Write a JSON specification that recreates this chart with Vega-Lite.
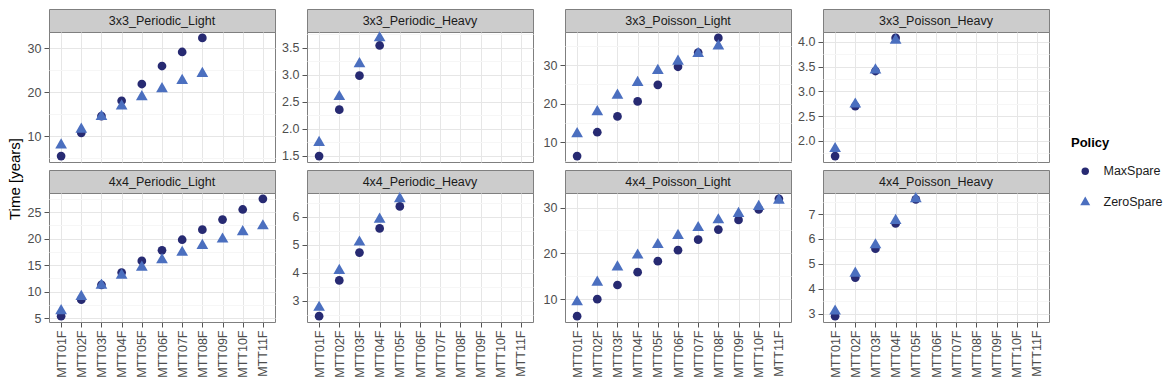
{
"$schema": "https://vega.github.io/schema/vega-lite/v6.json",
"padding": {"left": 7, "top": 8, "right": 5, "bottom": 0},
"background": "white",
"datasets": {
"main": [
{"panel":"3x3_Periodic_Light","MTT":"MTT01F","Policy":"MaxSpare","Time":5.5},
{"panel":"3x3_Periodic_Light","MTT":"MTT02F","Policy":"MaxSpare","Time":10.8},
{"panel":"3x3_Periodic_Light","MTT":"MTT03F","Policy":"MaxSpare","Time":14.6},
{"panel":"3x3_Periodic_Light","MTT":"MTT04F","Policy":"MaxSpare","Time":18.1},
{"panel":"3x3_Periodic_Light","MTT":"MTT05F","Policy":"MaxSpare","Time":21.9},
{"panel":"3x3_Periodic_Light","MTT":"MTT06F","Policy":"MaxSpare","Time":26.0},
{"panel":"3x3_Periodic_Light","MTT":"MTT07F","Policy":"MaxSpare","Time":29.2},
{"panel":"3x3_Periodic_Light","MTT":"MTT08F","Policy":"MaxSpare","Time":32.4},
{"panel":"3x3_Periodic_Light","MTT":"MTT01F","Policy":"ZeroSpare","Time":8.0},
{"panel":"3x3_Periodic_Light","MTT":"MTT02F","Policy":"ZeroSpare","Time":11.6},
{"panel":"3x3_Periodic_Light","MTT":"MTT03F","Policy":"ZeroSpare","Time":14.5},
{"panel":"3x3_Periodic_Light","MTT":"MTT04F","Policy":"ZeroSpare","Time":16.9},
{"panel":"3x3_Periodic_Light","MTT":"MTT05F","Policy":"ZeroSpare","Time":19.0},
{"panel":"3x3_Periodic_Light","MTT":"MTT06F","Policy":"ZeroSpare","Time":20.8},
{"panel":"3x3_Periodic_Light","MTT":"MTT07F","Policy":"ZeroSpare","Time":22.7},
{"panel":"3x3_Periodic_Light","MTT":"MTT08F","Policy":"ZeroSpare","Time":24.3},
{"panel":"3x3_Periodic_Heavy","MTT":"MTT01F","Policy":"MaxSpare","Time":1.49},
{"panel":"3x3_Periodic_Heavy","MTT":"MTT02F","Policy":"MaxSpare","Time":2.35},
{"panel":"3x3_Periodic_Heavy","MTT":"MTT03F","Policy":"MaxSpare","Time":2.98},
{"panel":"3x3_Periodic_Heavy","MTT":"MTT04F","Policy":"MaxSpare","Time":3.54},
{"panel":"3x3_Periodic_Heavy","MTT":"MTT01F","Policy":"ZeroSpare","Time":1.74},
{"panel":"3x3_Periodic_Heavy","MTT":"MTT02F","Policy":"ZeroSpare","Time":2.59},
{"panel":"3x3_Periodic_Heavy","MTT":"MTT03F","Policy":"ZeroSpare","Time":3.20},
{"panel":"3x3_Periodic_Heavy","MTT":"MTT04F","Policy":"ZeroSpare","Time":3.68},
{"panel":"3x3_Poisson_Light","MTT":"MTT01F","Policy":"MaxSpare","Time":6.4},
{"panel":"3x3_Poisson_Light","MTT":"MTT02F","Policy":"MaxSpare","Time":12.6},
{"panel":"3x3_Poisson_Light","MTT":"MTT03F","Policy":"MaxSpare","Time":16.7},
{"panel":"3x3_Poisson_Light","MTT":"MTT04F","Policy":"MaxSpare","Time":20.6},
{"panel":"3x3_Poisson_Light","MTT":"MTT05F","Policy":"MaxSpare","Time":24.9},
{"panel":"3x3_Poisson_Light","MTT":"MTT06F","Policy":"MaxSpare","Time":29.6},
{"panel":"3x3_Poisson_Light","MTT":"MTT07F","Policy":"MaxSpare","Time":33.3},
{"panel":"3x3_Poisson_Light","MTT":"MTT08F","Policy":"MaxSpare","Time":37.1},
{"panel":"3x3_Poisson_Light","MTT":"MTT01F","Policy":"ZeroSpare","Time":12.2},
{"panel":"3x3_Poisson_Light","MTT":"MTT02F","Policy":"ZeroSpare","Time":17.9},
{"panel":"3x3_Poisson_Light","MTT":"MTT03F","Policy":"ZeroSpare","Time":22.2},
{"panel":"3x3_Poisson_Light","MTT":"MTT04F","Policy":"ZeroSpare","Time":25.5},
{"panel":"3x3_Poisson_Light","MTT":"MTT05F","Policy":"ZeroSpare","Time":28.6},
{"panel":"3x3_Poisson_Light","MTT":"MTT06F","Policy":"ZeroSpare","Time":31.0},
{"panel":"3x3_Poisson_Light","MTT":"MTT07F","Policy":"ZeroSpare","Time":33.0},
{"panel":"3x3_Poisson_Light","MTT":"MTT08F","Policy":"ZeroSpare","Time":35.0},
{"panel":"3x3_Poisson_Heavy","MTT":"MTT01F","Policy":"MaxSpare","Time":1.69},
{"panel":"3x3_Poisson_Heavy","MTT":"MTT02F","Policy":"MaxSpare","Time":2.70},
{"panel":"3x3_Poisson_Heavy","MTT":"MTT03F","Policy":"MaxSpare","Time":3.41},
{"panel":"3x3_Poisson_Heavy","MTT":"MTT04F","Policy":"MaxSpare","Time":4.08},
{"panel":"3x3_Poisson_Heavy","MTT":"MTT01F","Policy":"ZeroSpare","Time":1.84},
{"panel":"3x3_Poisson_Heavy","MTT":"MTT02F","Policy":"ZeroSpare","Time":2.74},
{"panel":"3x3_Poisson_Heavy","MTT":"MTT03F","Policy":"ZeroSpare","Time":3.43},
{"panel":"3x3_Poisson_Heavy","MTT":"MTT04F","Policy":"ZeroSpare","Time":4.03},
{"panel":"4x4_Periodic_Light","MTT":"MTT01F","Policy":"MaxSpare","Time":5.4},
{"panel":"4x4_Periodic_Light","MTT":"MTT02F","Policy":"MaxSpare","Time":8.5},
{"panel":"4x4_Periodic_Light","MTT":"MTT03F","Policy":"MaxSpare","Time":11.3},
{"panel":"4x4_Periodic_Light","MTT":"MTT04F","Policy":"MaxSpare","Time":13.6},
{"panel":"4x4_Periodic_Light","MTT":"MTT05F","Policy":"MaxSpare","Time":15.8},
{"panel":"4x4_Periodic_Light","MTT":"MTT06F","Policy":"MaxSpare","Time":17.8},
{"panel":"4x4_Periodic_Light","MTT":"MTT07F","Policy":"MaxSpare","Time":19.8},
{"panel":"4x4_Periodic_Light","MTT":"MTT08F","Policy":"MaxSpare","Time":21.7},
{"panel":"4x4_Periodic_Light","MTT":"MTT09F","Policy":"MaxSpare","Time":23.6},
{"panel":"4x4_Periodic_Light","MTT":"MTT10F","Policy":"MaxSpare","Time":25.5},
{"panel":"4x4_Periodic_Light","MTT":"MTT11F","Policy":"MaxSpare","Time":27.5},
{"panel":"4x4_Periodic_Light","MTT":"MTT01F","Policy":"ZeroSpare","Time":6.4},
{"panel":"4x4_Periodic_Light","MTT":"MTT02F","Policy":"ZeroSpare","Time":9.1},
{"panel":"4x4_Periodic_Light","MTT":"MTT03F","Policy":"ZeroSpare","Time":11.2},
{"panel":"4x4_Periodic_Light","MTT":"MTT04F","Policy":"ZeroSpare","Time":13.1},
{"panel":"4x4_Periodic_Light","MTT":"MTT05F","Policy":"ZeroSpare","Time":14.6},
{"panel":"4x4_Periodic_Light","MTT":"MTT06F","Policy":"ZeroSpare","Time":16.0},
{"panel":"4x4_Periodic_Light","MTT":"MTT07F","Policy":"ZeroSpare","Time":17.4},
{"panel":"4x4_Periodic_Light","MTT":"MTT08F","Policy":"ZeroSpare","Time":18.7},
{"panel":"4x4_Periodic_Light","MTT":"MTT09F","Policy":"ZeroSpare","Time":19.9},
{"panel":"4x4_Periodic_Light","MTT":"MTT10F","Policy":"ZeroSpare","Time":21.3},
{"panel":"4x4_Periodic_Light","MTT":"MTT11F","Policy":"ZeroSpare","Time":22.4},
{"panel":"4x4_Periodic_Heavy","MTT":"MTT01F","Policy":"MaxSpare","Time":2.46},
{"panel":"4x4_Periodic_Heavy","MTT":"MTT02F","Policy":"MaxSpare","Time":3.73},
{"panel":"4x4_Periodic_Heavy","MTT":"MTT03F","Policy":"MaxSpare","Time":4.72},
{"panel":"4x4_Periodic_Heavy","MTT":"MTT04F","Policy":"MaxSpare","Time":5.58},
{"panel":"4x4_Periodic_Heavy","MTT":"MTT05F","Policy":"MaxSpare","Time":6.36},
{"panel":"4x4_Periodic_Heavy","MTT":"MTT01F","Policy":"ZeroSpare","Time":2.77},
{"panel":"4x4_Periodic_Heavy","MTT":"MTT02F","Policy":"ZeroSpare","Time":4.08},
{"panel":"4x4_Periodic_Heavy","MTT":"MTT03F","Policy":"ZeroSpare","Time":5.09},
{"panel":"4x4_Periodic_Heavy","MTT":"MTT04F","Policy":"ZeroSpare","Time":5.90},
{"panel":"4x4_Periodic_Heavy","MTT":"MTT05F","Policy":"ZeroSpare","Time":6.63},
{"panel":"4x4_Poisson_Light","MTT":"MTT01F","Policy":"MaxSpare","Time":6.3},
{"panel":"4x4_Poisson_Light","MTT":"MTT02F","Policy":"MaxSpare","Time":10.0},
{"panel":"4x4_Poisson_Light","MTT":"MTT03F","Policy":"MaxSpare","Time":13.1},
{"panel":"4x4_Poisson_Light","MTT":"MTT04F","Policy":"MaxSpare","Time":15.9},
{"panel":"4x4_Poisson_Light","MTT":"MTT05F","Policy":"MaxSpare","Time":18.3},
{"panel":"4x4_Poisson_Light","MTT":"MTT06F","Policy":"MaxSpare","Time":20.7},
{"panel":"4x4_Poisson_Light","MTT":"MTT07F","Policy":"MaxSpare","Time":23.0},
{"panel":"4x4_Poisson_Light","MTT":"MTT08F","Policy":"MaxSpare","Time":25.2},
{"panel":"4x4_Poisson_Light","MTT":"MTT09F","Policy":"MaxSpare","Time":27.3},
{"panel":"4x4_Poisson_Light","MTT":"MTT10F","Policy":"MaxSpare","Time":29.6},
{"panel":"4x4_Poisson_Light","MTT":"MTT11F","Policy":"MaxSpare","Time":31.9},
{"panel":"4x4_Poisson_Light","MTT":"MTT01F","Policy":"ZeroSpare","Time":9.4},
{"panel":"4x4_Poisson_Light","MTT":"MTT02F","Policy":"ZeroSpare","Time":13.7},
{"panel":"4x4_Poisson_Light","MTT":"MTT03F","Policy":"ZeroSpare","Time":17.0},
{"panel":"4x4_Poisson_Light","MTT":"MTT04F","Policy":"ZeroSpare","Time":19.6},
{"panel":"4x4_Poisson_Light","MTT":"MTT05F","Policy":"ZeroSpare","Time":21.9},
{"panel":"4x4_Poisson_Light","MTT":"MTT06F","Policy":"ZeroSpare","Time":23.9},
{"panel":"4x4_Poisson_Light","MTT":"MTT07F","Policy":"ZeroSpare","Time":25.6},
{"panel":"4x4_Poisson_Light","MTT":"MTT08F","Policy":"ZeroSpare","Time":27.3},
{"panel":"4x4_Poisson_Light","MTT":"MTT09F","Policy":"ZeroSpare","Time":28.7},
{"panel":"4x4_Poisson_Light","MTT":"MTT10F","Policy":"ZeroSpare","Time":30.2},
{"panel":"4x4_Poisson_Light","MTT":"MTT11F","Policy":"ZeroSpare","Time":31.6},
{"panel":"4x4_Poisson_Heavy","MTT":"MTT01F","Policy":"MaxSpare","Time":2.90},
{"panel":"4x4_Poisson_Heavy","MTT":"MTT02F","Policy":"MaxSpare","Time":4.45},
{"panel":"4x4_Poisson_Heavy","MTT":"MTT03F","Policy":"MaxSpare","Time":5.61},
{"panel":"4x4_Poisson_Heavy","MTT":"MTT04F","Policy":"MaxSpare","Time":6.62},
{"panel":"4x4_Poisson_Heavy","MTT":"MTT05F","Policy":"MaxSpare","Time":7.59},
{"panel":"4x4_Poisson_Heavy","MTT":"MTT01F","Policy":"ZeroSpare","Time":3.10},
{"panel":"4x4_Poisson_Heavy","MTT":"MTT02F","Policy":"ZeroSpare","Time":4.62},
{"panel":"4x4_Poisson_Heavy","MTT":"MTT03F","Policy":"ZeroSpare","Time":5.76},
{"panel":"4x4_Poisson_Heavy","MTT":"MTT04F","Policy":"ZeroSpare","Time":6.74},
{"panel":"4x4_Poisson_Heavy","MTT":"MTT05F","Policy":"ZeroSpare","Time":7.61}
]
},
"config": {
"font": "Liberation Sans",
"view": {"stroke": "#7F7F7F", "strokeWidth": 1},
"axis": {"labelFont": "Liberation Sans", "labelFontSize": 12.5, "labelColor": "#4D4D4D", "tickColor": "#555555", "tickSize": 5, "labelPadding": 3, "domain": false, "gridColor": "#E6E6E6", "gridWidth": 1, "labelOverlap": false, "title": null},
"legend": {"orient": "none", "legendX": 1064, "legendY": 128, "titleFont": "Liberation Sans", "titleFontSize": 13, "titleFontWeight": "bold", "titleColor": "#000000", "labelFont": "Liberation Sans", "labelFontSize": 12.5, "labelColor": "#1A1A1A", "symbolSize": 55, "symbolOffset": 8, "labelOffset": 12, "rowPadding": 18, "titlePadding": 15, "symbolStrokeWidth": 0},
"point": {"filled": true, "opacity": 1, "size": 76, "strokeWidth": 0}
},
"spacing": 3,
"hconcat": [
{"width": 16, "height": 340, "view": {"stroke": null},
 "data": {"values": [{"label": "Time [years]"}]},
 "mark": {"type": "text", "angle": 270, "fontSize": 15, "font": "Liberation Sans", "color": "#000000"},
 "encoding": {"text": {"field": "label"}}},
{"spacing": 0,
 "vconcat": [
 {"columns": 4, "align": "each", "bounds": "flush", "spacing": {"row": 0, "column": 32},
  "concat": [
  {"width": 226, "height": 23, "view": {"fill": "#CCCCCC", "stroke": "#7F7F7F"}, "data": {"values": [{"panel": "3x3_Periodic_Light"}]}, "mark": {"type": "text", "fontSize": 12.5, "color": "#1A1A1A"}, "encoding": {"text": {"field": "panel"}}},
  {"width": 226, "height": 23, "view": {"fill": "#CCCCCC", "stroke": "#7F7F7F"}, "data": {"values": [{"panel": "3x3_Periodic_Heavy"}]}, "mark": {"type": "text", "fontSize": 12.5, "color": "#1A1A1A"}, "encoding": {"text": {"field": "panel"}}},
  {"width": 226, "height": 23, "view": {"fill": "#CCCCCC", "stroke": "#7F7F7F"}, "data": {"values": [{"panel": "3x3_Poisson_Light"}]}, "mark": {"type": "text", "fontSize": 12.5, "color": "#1A1A1A"}, "encoding": {"text": {"field": "panel"}}},
  {"width": 226, "height": 23, "view": {"fill": "#CCCCCC", "stroke": "#7F7F7F"}, "data": {"values": [{"panel": "3x3_Poisson_Heavy"}]}, "mark": {"type": "text", "fontSize": 12.5, "color": "#1A1A1A"}, "encoding": {"text": {"field": "panel"}}},
  {"width": 226, "height": 130, "data": {"name": "main"}, "transform": [{"filter": "datum.panel === '3x3_Periodic_Light'"}], "mark": "point",
   "encoding": {
    "x": {"field": "MTT", "type": "nominal", "scale": {"type": "point", "padding": 0.6, "domain": ["MTT01F","MTT02F","MTT03F","MTT04F","MTT05F","MTT06F","MTT07F","MTT08F","MTT09F","MTT10F","MTT11F"]}, "axis": {"labels": false, "ticks": false, "grid": true, "title": null, "minExtent": 0}},
    "y": {"field": "Time", "type": "quantitative", "scale": {"domain": [4.155, 33.745], "nice": false, "zero": false}, "axis": {"values": [5,10,15,20,25,30], "format": ".0f", "labelExpr": "datum.value % 10 === 0 ? datum.label : ''", "gridColor": {"condition": {"test": "datum.value % 10 === 0", "value": "#E6E6E6"}, "value": "#F6F6F6"}, "tickOpacity": {"condition": {"test": "datum.value % 10 === 0", "value": 1}, "value": 0}}},
    "color": {"field": "Policy", "type": "nominal", "scale": {"domain": ["MaxSpare","ZeroSpare"], "range": ["#272A72","#4B6FBF"]}},
    "shape": {"field": "Policy", "type": "nominal", "scale": {"domain": ["MaxSpare","ZeroSpare"], "range": ["circle","M0,-1.555L1.347,0.778L-1.347,0.778Z"]}}
   }},
  {"width": 226, "height": 130, "data": {"name": "main"}, "transform": [{"filter": "datum.panel === '3x3_Periodic_Heavy'"}], "mark": "point",
   "encoding": {
    "x": {"field": "MTT", "type": "nominal", "scale": {"type": "point", "padding": 0.6, "domain": ["MTT01F","MTT02F","MTT03F","MTT04F","MTT05F","MTT06F","MTT07F","MTT08F","MTT09F","MTT10F","MTT11F"]}, "axis": {"labels": false, "ticks": false, "grid": true, "title": null, "minExtent": 0}},
    "y": {"field": "Time", "type": "quantitative", "scale": {"domain": [1.3805, 3.7895], "nice": false, "zero": false}, "axis": {"values": [1.5,1.75,2,2.25,2.5,2.75,3,3.25,3.5,3.75], "format": ".1f", "labelExpr": "datum.value % 0.5 === 0 ? datum.label : ''", "gridColor": {"condition": {"test": "datum.value % 0.5 === 0", "value": "#E6E6E6"}, "value": "#F6F6F6"}, "tickOpacity": {"condition": {"test": "datum.value % 0.5 === 0", "value": 1}, "value": 0}}},
    "color": {"field": "Policy", "type": "nominal", "scale": {"domain": ["MaxSpare","ZeroSpare"], "range": ["#272A72","#4B6FBF"]}},
    "shape": {"field": "Policy", "type": "nominal", "scale": {"domain": ["MaxSpare","ZeroSpare"], "range": ["circle","M0,-1.555L1.347,0.778L-1.347,0.778Z"]}}
   }},
  {"width": 226, "height": 130, "data": {"name": "main"}, "transform": [{"filter": "datum.panel === '3x3_Poisson_Light'"}], "mark": "point",
   "encoding": {
    "x": {"field": "MTT", "type": "nominal", "scale": {"type": "point", "padding": 0.6, "domain": ["MTT01F","MTT02F","MTT03F","MTT04F","MTT05F","MTT06F","MTT07F","MTT08F","MTT09F","MTT10F","MTT11F"]}, "axis": {"labels": false, "ticks": false, "grid": true, "title": null, "minExtent": 0}},
    "y": {"field": "Time", "type": "quantitative", "scale": {"domain": [4.865, 38.635], "nice": false, "zero": false}, "axis": {"values": [5,10,15,20,25,30,35], "format": ".0f", "labelExpr": "datum.value % 10 === 0 ? datum.label : ''", "gridColor": {"condition": {"test": "datum.value % 10 === 0", "value": "#E6E6E6"}, "value": "#F6F6F6"}, "tickOpacity": {"condition": {"test": "datum.value % 10 === 0", "value": 1}, "value": 0}}},
    "color": {"field": "Policy", "type": "nominal", "scale": {"domain": ["MaxSpare","ZeroSpare"], "range": ["#272A72","#4B6FBF"]}},
    "shape": {"field": "Policy", "type": "nominal", "scale": {"domain": ["MaxSpare","ZeroSpare"], "range": ["circle","M0,-1.555L1.347,0.778L-1.347,0.778Z"]}}
   }},
  {"width": 226, "height": 130, "data": {"name": "main"}, "transform": [{"filter": "datum.panel === '3x3_Poisson_Heavy'"}], "mark": "point",
   "encoding": {
    "x": {"field": "MTT", "type": "nominal", "scale": {"type": "point", "padding": 0.6, "domain": ["MTT01F","MTT02F","MTT03F","MTT04F","MTT05F","MTT06F","MTT07F","MTT08F","MTT09F","MTT10F","MTT11F"]}, "axis": {"labels": false, "ticks": false, "grid": true, "title": null, "minExtent": 0}},
    "y": {"field": "Time", "type": "quantitative", "scale": {"domain": [1.5705, 4.1995], "nice": false, "zero": false}, "axis": {"values": [1.75,2,2.25,2.5,2.75,3,3.25,3.5,3.75,4], "format": ".1f", "labelExpr": "datum.value % 0.5 === 0 ? datum.label : ''", "gridColor": {"condition": {"test": "datum.value % 0.5 === 0", "value": "#E6E6E6"}, "value": "#F6F6F6"}, "tickOpacity": {"condition": {"test": "datum.value % 0.5 === 0", "value": 1}, "value": 0}}},
    "color": {"field": "Policy", "type": "nominal", "scale": {"domain": ["MaxSpare","ZeroSpare"], "range": ["#272A72","#4B6FBF"]}},
    "shape": {"field": "Policy", "type": "nominal", "scale": {"domain": ["MaxSpare","ZeroSpare"], "range": ["circle","M0,-1.555L1.347,0.778L-1.347,0.778Z"]}}
   }}
  ]},
 {"columns": 4, "align": "each", "bounds": "flush", "spacing": {"row": 0, "column": 32},
  "concat": [
  {"width": 226, "height": 23, "view": {"fill": "#CCCCCC", "stroke": "#7F7F7F"}, "data": {"values": [{"panel": "4x4_Periodic_Light"}]}, "mark": {"type": "text", "fontSize": 12.5, "color": "#1A1A1A"}, "encoding": {"text": {"field": "panel"}}},
  {"width": 226, "height": 23, "view": {"fill": "#CCCCCC", "stroke": "#7F7F7F"}, "data": {"values": [{"panel": "4x4_Periodic_Heavy"}]}, "mark": {"type": "text", "fontSize": 12.5, "color": "#1A1A1A"}, "encoding": {"text": {"field": "panel"}}},
  {"width": 226, "height": 23, "view": {"fill": "#CCCCCC", "stroke": "#7F7F7F"}, "data": {"values": [{"panel": "4x4_Poisson_Light"}]}, "mark": {"type": "text", "fontSize": 12.5, "color": "#1A1A1A"}, "encoding": {"text": {"field": "panel"}}},
  {"width": 226, "height": 23, "view": {"fill": "#CCCCCC", "stroke": "#7F7F7F"}, "data": {"values": [{"panel": "4x4_Poisson_Heavy"}]}, "mark": {"type": "text", "fontSize": 12.5, "color": "#1A1A1A"}, "encoding": {"text": {"field": "panel"}}},
  {"width": 226, "height": 129, "data": {"name": "main"}, "transform": [{"filter": "datum.panel === '4x4_Periodic_Light'"}], "mark": "point",
   "encoding": {
    "x": {"field": "MTT", "type": "nominal", "scale": {"type": "point", "padding": 0.6, "domain": ["MTT01F","MTT02F","MTT03F","MTT04F","MTT05F","MTT06F","MTT07F","MTT08F","MTT09F","MTT10F","MTT11F"]}, "axis": {"labelAngle": 270, "grid": true, "title": null}},
    "y": {"field": "Time", "type": "quantitative", "scale": {"domain": [4.295, 28.605], "nice": false, "zero": false}, "axis": {"values": [5,7.5,10,12.5,15,17.5,20,22.5,25,27.5], "format": ".0f", "labelExpr": "datum.value % 5 === 0 ? datum.label : ''", "gridColor": {"condition": {"test": "datum.value % 5 === 0", "value": "#E6E6E6"}, "value": "#F6F6F6"}, "tickOpacity": {"condition": {"test": "datum.value % 5 === 0", "value": 1}, "value": 0}}},
    "color": {"field": "Policy", "type": "nominal", "scale": {"domain": ["MaxSpare","ZeroSpare"], "range": ["#272A72","#4B6FBF"]}},
    "shape": {"field": "Policy", "type": "nominal", "scale": {"domain": ["MaxSpare","ZeroSpare"], "range": ["circle","M0,-1.555L1.347,0.778L-1.347,0.778Z"]}}
   }},
  {"width": 226, "height": 129, "data": {"name": "main"}, "transform": [{"filter": "datum.panel === '4x4_Periodic_Heavy'"}], "mark": "point",
   "encoding": {
    "x": {"field": "MTT", "type": "nominal", "scale": {"type": "point", "padding": 0.6, "domain": ["MTT01F","MTT02F","MTT03F","MTT04F","MTT05F","MTT06F","MTT07F","MTT08F","MTT09F","MTT10F","MTT11F"]}, "axis": {"labelAngle": 270, "grid": true, "title": null}},
    "y": {"field": "Time", "type": "quantitative", "scale": {"domain": [2.2515, 6.8385], "nice": false, "zero": false}, "axis": {"values": [2.5,3,3.5,4,4.5,5,5.5,6,6.5], "format": ".0f", "labelExpr": "datum.value % 1 === 0 ? datum.label : ''", "gridColor": {"condition": {"test": "datum.value % 1 === 0", "value": "#E6E6E6"}, "value": "#F6F6F6"}, "tickOpacity": {"condition": {"test": "datum.value % 1 === 0", "value": 1}, "value": 0}}},
    "color": {"field": "Policy", "type": "nominal", "scale": {"domain": ["MaxSpare","ZeroSpare"], "range": ["#272A72","#4B6FBF"]}},
    "shape": {"field": "Policy", "type": "nominal", "scale": {"domain": ["MaxSpare","ZeroSpare"], "range": ["circle","M0,-1.555L1.347,0.778L-1.347,0.778Z"]}}
   }},
  {"width": 226, "height": 129, "data": {"name": "main"}, "transform": [{"filter": "datum.panel === '4x4_Poisson_Light'"}], "mark": "point",
   "encoding": {
    "x": {"field": "MTT", "type": "nominal", "scale": {"type": "point", "padding": 0.6, "domain": ["MTT01F","MTT02F","MTT03F","MTT04F","MTT05F","MTT06F","MTT07F","MTT08F","MTT09F","MTT10F","MTT11F"]}, "axis": {"labelAngle": 270, "grid": true, "title": null}},
    "y": {"field": "Time", "type": "quantitative", "scale": {"domain": [5.02, 33.18], "nice": false, "zero": false}, "axis": {"values": [10,15,20,25,30], "format": ".0f", "labelExpr": "datum.value % 10 === 0 ? datum.label : ''", "gridColor": {"condition": {"test": "datum.value % 10 === 0", "value": "#E6E6E6"}, "value": "#F6F6F6"}, "tickOpacity": {"condition": {"test": "datum.value % 10 === 0", "value": 1}, "value": 0}}},
    "color": {"field": "Policy", "type": "nominal", "scale": {"domain": ["MaxSpare","ZeroSpare"], "range": ["#272A72","#4B6FBF"]}},
    "shape": {"field": "Policy", "type": "nominal", "scale": {"domain": ["MaxSpare","ZeroSpare"], "range": ["circle","M0,-1.555L1.347,0.778L-1.347,0.778Z"]}}
   }},
  {"width": 226, "height": 129, "data": {"name": "main"}, "transform": [{"filter": "datum.panel === '4x4_Poisson_Heavy'"}], "mark": "point",
   "encoding": {
    "x": {"field": "MTT", "type": "nominal", "scale": {"type": "point", "padding": 0.6, "domain": ["MTT01F","MTT02F","MTT03F","MTT04F","MTT05F","MTT06F","MTT07F","MTT08F","MTT09F","MTT10F","MTT11F"]}, "axis": {"labelAngle": 270, "grid": true, "title": null}},
    "y": {"field": "Time", "type": "quantitative", "scale": {"domain": [2.6645, 7.8455], "nice": false, "zero": false}, "axis": {"values": [3,3.5,4,4.5,5,5.5,6,6.5,7,7.5], "format": ".0f", "labelExpr": "datum.value % 1 === 0 ? datum.label : ''", "gridColor": {"condition": {"test": "datum.value % 1 === 0", "value": "#E6E6E6"}, "value": "#F6F6F6"}, "tickOpacity": {"condition": {"test": "datum.value % 1 === 0", "value": 1}, "value": 0}}},
    "color": {"field": "Policy", "type": "nominal", "scale": {"domain": ["MaxSpare","ZeroSpare"], "range": ["#272A72","#4B6FBF"]}},
    "shape": {"field": "Policy", "type": "nominal", "scale": {"domain": ["MaxSpare","ZeroSpare"], "range": ["circle","M0,-1.555L1.347,0.778L-1.347,0.778Z"]}}
   }}
  ]}
 ]}
]
}
